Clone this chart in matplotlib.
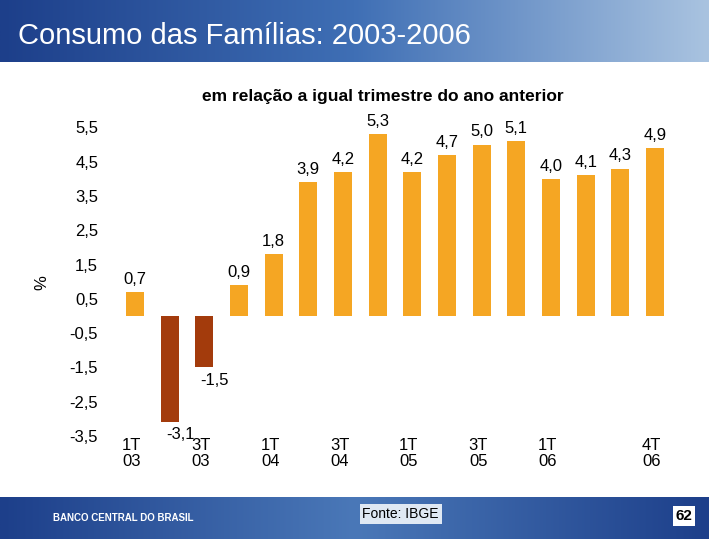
import matplotlib
matplotlib.use("Agg")
import matplotlib.pyplot as plt
import numpy as np

plt.rcParams["font.family"] = "Liberation Sans"

quarters = ["1T03","2T03","3T03","4T03","1T04","2T04","3T04","4T04",
            "1T05","2T05","3T05","4T05","1T06","2T06","3T06","4T06"]
values = [0.7,-3.1,-1.5,0.9,1.8,3.9,4.2,5.3,4.2,4.7,5.0,5.1,4.0,4.1,4.3,4.9]
tick_idx = [0,2,4,6,8,10,12,15]
tick_labels = ["1T\n03","3T\n03","1T\n04","3T\n04","1T\n05","3T\n05","1T\n06","4T\n06"]
yticks = [5.5,4.5,3.5,2.5,1.5,0.5,-0.5,-1.5,-2.5,-3.5]

W, H = 709, 539
fig = plt.figure(figsize=(W/100, H/100), dpi=100)

grad = np.linspace(0, 1, 256).reshape(1, -1)
hdr = fig.add_axes([0, 1-62/H, 1, 62/H])
hdr.imshow(grad, aspect="auto", cmap=matplotlib.colors.LinearSegmentedColormap.from_list(
    "h", ["#1d3f8a", "#3f6fb5", "#a9c3e0"]), extent=[0, 1, 0, 1])
hdr.axis("off")
hdr.text(0.026, 0.42, "Consumo das Famílias: 2003-2006", color="white",
         fontsize=21, va="center", transform=hdr.transAxes)

ftr = fig.add_axes([0, 0, 1, 42/H])
ftr.imshow(grad, aspect="auto", cmap=matplotlib.colors.LinearSegmentedColormap.from_list(
    "f", ["#1d3f8a", "#4a78b8", "#1d3f8a"]), extent=[0, 1, 0, 1])
ftr.axis("off")
ftr.text(0.075, 0.5, "BANCO CENTRAL DO BRASIL", color="white", fontsize=7,
         fontweight="bold", va="center", transform=ftr.transAxes)
ftr.text(0.565, 0.6, "Fonte: IBGE", color="black", fontsize=10, ha="center",
         va="center", transform=ftr.transAxes,
         bbox=dict(facecolor="#dfe8f3", edgecolor="none", pad=2))
ftr.text(0.965, 0.55, "62", color="black", fontsize=11, fontweight="bold",
         ha="center", va="center", transform=ftr.transAxes,
         bbox=dict(facecolor="white", edgecolor="none", pad=2))

unit = 34.3
zero_px = 316
ymin, ymax = -3.6, 5.9
bottom_px = zero_px + (-ymin) * unit
top_px = zero_px - ymax * unit
step = 34.67
x0 = 135
left_px = x0 - 0.5 * step
right_px = x0 + 15.5 * step
ax = fig.add_axes([left_px/W, 1-bottom_px/H, (right_px-left_px)/W, (bottom_px-top_px)/H])
ax.set_facecolor("none")
x = np.arange(len(values))
colors = ["#f5a623" if v >= 0 else "#a33b0c" for v in values]
ax.bar(x, values, width=0.52, color=colors)
ax.set_xlim(-0.5, 15.5)
ax.set_ylim(ymin, ymax)
for s in ax.spines.values():
    s.set_visible(False)
ax.set_yticks(yticks)
ax.set_yticklabels([f"{t:.1f}".replace(".", ",") for t in yticks], fontsize=12)
ax.tick_params(axis="y", length=0, pad=14)
ax.set_xticks([])
for i, lab in zip(tick_idx, tick_labels):
    ax.text(i - 0.1, -3.55, lab, ha="center", va="top", fontsize=12, linespacing=1.1)
for xi, v in zip(x, values):
    lab = f"{v:.1f}".replace(".", ",")
    if v >= 0:
        ax.text(xi, v + 0.15, lab, ha="center", va="bottom", fontsize=12)
    else:
        ax.text(xi + 0.3, v - 0.15, lab, ha="center", va="top", fontsize=12)

fig.text(42/W, 1-283/H, "%", rotation=90, fontsize=12, ha="center", va="center")
fig.text(383/W, 1-96/H, "em relação a igual trimestre do ano anterior",
         fontsize=12.5, fontweight="bold", ha="center", va="center")

fig.savefig("out.png", dpi=100)
